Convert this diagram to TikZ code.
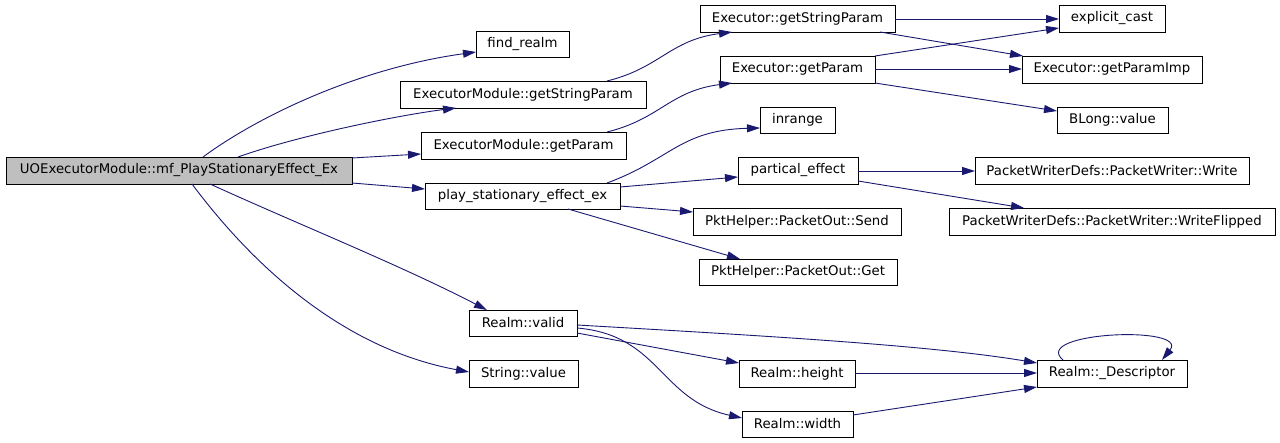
\documentclass[tikz,border=0pt]{standalone}
\usepackage{fontspec}
\setmainfont{DejaVu Sans}
\usetikzlibrary{arrows.meta,calc}
\definecolor{edgec}{HTML}{191970}
\definecolor{rootfill}{HTML}{BFBFBF}
\begin{document}
\begin{tikzpicture}[x=1pt,y=-1pt,
 box/.style={draw=black,line width=0.9pt,inner sep=0pt,outer sep=0pt,anchor=north west,minimum height=27pt,font=\fontsize{13.3}{16}\selectfont},
 edge/.style={draw=edgec,line width=0.9pt,-{Triangle[length=13pt,width=8pt]}}]
\useasboundingbox (0,0) rectangle (1280,443);
\fill[white] (0,0) rectangle (1280,443);
% nodes
\node[box,minimum width=346pt,fill=rootfill] (root) at (6,157) {UOExecutorModule::mf\_PlayStationaryEffect\_Ex};
\node[box,minimum width=93pt,minimum height=26pt] (findrealm) at (476,31) {find\_realm};
\node[box,minimum width=246pt] (emgsp) at (400,81) {ExecutorModule::getStringParam};
\node[box,minimum width=205pt] (emgp) at (421,132) {ExecutorModule::getParam};
\node[box,minimum width=195pt,minimum height=26pt] (play) at (425,183) {play\_stationary\_effect\_ex};
\node[box,minimum width=195pt] (egsp) at (700,5) {Executor::getStringParam};
\node[box,minimum width=155pt] (egp) at (720,56) {Executor::getParam};
\node[box,minimum width=75pt,minimum height=26pt] (inrange) at (760,107) {inrange};
\node[box,minimum width=106pt] (cast) at (1059,5) {explicit\_cast};
\node[box,minimum width=180pt] (gpi) at (1022,56) {Executor::getParamImp};
\node[box,minimum width=111pt,minimum height=26pt] (blong) at (1057,107) {BLong::value};
\node[box,minimum width=120pt] (partical) at (738,157) {partical\_effect};
\node[box,minimum width=208pt] (send) at (693,208) {PktHelper::PacketOut::Send};
\node[box,minimum width=198pt,minimum height=26pt] (get) at (699,259) {PktHelper::PacketOut::Get};
\node[box,minimum width=274pt] (write) at (975,157) {PacketWriterDefs::PacketWriter::Write};
\node[box,minimum width=326pt] (flipped) at (949,208) {PacketWriterDefs::PacketWriter::WriteFlipped};
\node[box,minimum width=108pt,minimum height=26pt] (valid) at (469,310) {Realm::valid};
\node[box,minimum width=109pt] (strval) at (469,360) {String::value};
\node[box,minimum width=116pt] (height) at (739,360) {Realm::height};
\node[box,minimum width=111pt,minimum height=26pt] (width) at (742,411) {Realm::width};
\node[box,minimum width=150pt] (desc) at (1037,360) {Realm::\_Descriptor};
% edges
\draw[edge] ($(root.north west)+(197,0)$) .. controls (260,115) and (360,68) .. ($(findrealm.north west)+(0,21)$);
\draw[edge] ($(root.north west)+(232,0)$) .. controls (300,135) and (400,115) .. ($(emgsp.north west)+(56,27)$);
\draw[edge] ($(root.north east)+(0,1)$) -- ($(emgp.north west)+(0,22)$);
\draw[edge] ($(root.south east)+(0,-1)$) -- ($(play.north west)+(0,6)$);
\draw[edge] ($(root.south west)+(204,0)$) .. controls (300,225) and (400,265) .. ($(valid.north west)+(18,0)$);
\draw[edge] ($(root.south west)+(186,0)$) .. controls (260,275) and (350,350) .. ($(strval.north west)+(0,12)$);
\draw[edge] ($(emgsp.north west)+(207,0)$) .. controls (660,68) and (670,40) .. ($(egsp.north west)+(32,27)$);
\draw[edge] ($(emgp.north west)+(186,0)$) .. controls (660,119) and (670,91) .. ($(egp.north west)+(12,27)$);
\draw[edge] ($(play.north west)+(182,0)$) .. controls (670,160) and (680,130) .. ($(inrange.north west)+(0,21)$);
\draw[edge] ($(play.north east)+(0,4)$) -- ($(partical.north west)+(0,20)$);
\draw[edge] ($(play.north east)+(0,23)$) -- ($(send.north west)+(0,4)$);
\draw[edge] ($(play.south west)+(143,0)$) -- ($(get.north west)+(41,0)$);
\draw[edge] ($(egsp.north east)+(0,14)$) -- ($(cast.north west)+(0,14)$);
\draw[edge] ($(egsp.south east)+(-15,0)$) -- ($(gpi.north west)+(1,0)$);
\draw[edge] (egp.north east) -- ($(cast.north west)+(0,23)$);
\draw[edge] ($(egp.north east)+(0,13)$) -- ($(gpi.north west)+(0,13)$);
\draw[edge] (egp.south east) -- ($(blong.north west)+(0,4)$);
\draw[edge] ($(partical.north east)+(0,14)$) -- ($(write.north west)+(0,14)$);
\draw[edge] ($(partical.north east)+(0,24)$) -- ($(flipped.north west)+(75,0)$);
\draw[edge] ($(valid.north east)+(0,15)$) .. controls (750,335) and (930,345) .. ($(desc.north west)+(0,3)$);
\draw[edge] ($(valid.north east)+(0,23)$) -- ($(height.north west)+(0,3)$);
\draw[edge] ($(valid.north east)+(0,18)$) .. controls (660,335) and (660,400) .. ($(width.north west)+(0,7)$);
\draw[edge] ($(height.north east)+(0,13)$) -- ($(desc.north west)+(0,13)$);
\draw[edge] ($(width.north east)+(0,4)$) -- (desc.south west);
\draw[edge] ($(desc.north west)+(26,0)$) .. controls (1030,332) and (1190,325) .. ($(desc.north west)+(125,0)$);
\end{tikzpicture}
\end{document}
